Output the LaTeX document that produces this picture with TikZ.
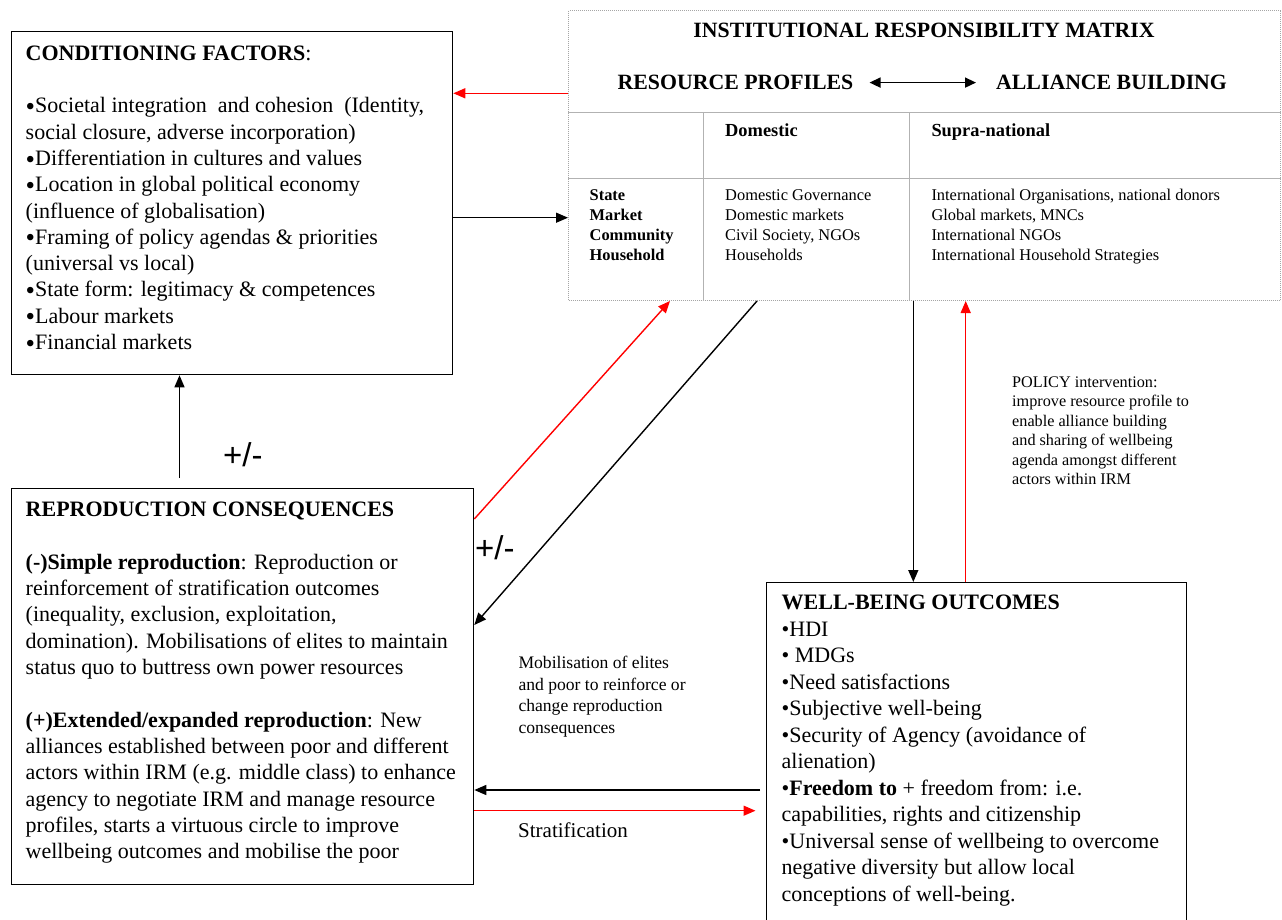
\documentclass[tikz,border=0pt]{standalone}
\usepackage{fontspec}
\setmainfont{Liberation Serif}
\newfontfamily\plmsans{Liberation Sans}
\usetikzlibrary{arrows.meta}

% font sizes used in the boxes
\newcommand\fsBody{\fontsize{22}{26.3}\selectfont}
\newcommand\fsWell{\fontsize{22}{26.5}\selectfont}
\newcommand\fsHead{\fontsize{21.8}{26}\selectfont\bfseries}
\newcommand\fsCol{\fontsize{18.4}{22}\selectfont\bfseries}
\newcommand\fsCell{\fontsize{16.4}{19.7}\selectfont}
\newcommand\fsNote{\fontsize{16.2}{19.4}\selectfont}
\newcommand\fsMob{\fontsize{17.6}{21.7}\selectfont}
\newcommand\fsStrat{\fontsize{21}{25}\selectfont}
\newcommand\fsSign{\plmsans\fontsize{33}{36}\selectfont}
% fixed first-line height, so a block's top sits a known distance above its first baseline
\newcommand\lift[1]{\rule{0pt}{#1}}
% the heavier bullet of the conditioning-factors list
\newcommand\cbul{\raisebox{-2.6pt}{\fontsize{27}{26.3}\selectfont•}}

\tikzset{
  box/.style={draw=black, line width=1.3pt, rectangle, inner sep=0pt, anchor=north west},
  irmbox/.style={draw=gray!70, line width=1pt, densely dotted, rectangle, inner sep=0pt, anchor=north west},
  gridline/.style={draw=gray!60, line width=1pt},
  txt/.style={anchor=base west, inner sep=0pt, align=left},
  block/.style={anchor=north west, inner sep=0pt, align=left},
  tip/.style={-{Triangle[length=12pt,width=10pt]}},
  blackarrow/.style={tip, draw=black, line width=1.4pt},
  redarrow/.style={tip, draw=red, line width=1.4pt},
  twoway/.style={{Triangle[length=11pt,width=10pt]}-{Triangle[length=11pt,width=10pt]}, draw=black, line width=1.6pt},
}

\begin{document}
\begin{tikzpicture}[x=1pt,y=-1pt]
\clip (0,0) rectangle (1282,920);
\fill[white] (0,0) rectangle (1282,920);

% ---------- boxes ----------
\node[box, minimum width=441pt, minimum height=343pt] (cond) at (11,31) {};
\node[box, minimum width=462pt, minimum height=396pt] (repro) at (11,488) {};
\node[box, minimum width=420pt, minimum height=380pt] (well) at (766,582) {};
\node[irmbox, minimum width=712pt, minimum height=290pt] (irm) at (568,10) {};

% ---------- institutional responsibility matrix ----------
\draw[gridline] (irm.west |- 0,113) -- (irm.east |- 0,113);
\draw[gridline] (irm.west |- 0,179) -- (irm.east |- 0,179);
\draw[gridline] (703,113) -- (irm.south -| 703,0);
\draw[gridline] (909,113) -- (irm.south -| 909,0);

\node[anchor=base, inner sep=0pt, font=\fsHead] (irmtitle) at (924,38)
  {INSTITUTIONAL RESPONSIBILITY MATRIX};
\node[txt, font=\fsHead] (rp) at (617.5,89.7) {RESOURCE PROFILES};
\node[txt, font=\fsHead] (ab) at (996,89.7) {ALLIANCE BUILDING};
\draw[twoway] ([xshift=16pt]rp.east) -- ([xshift=-20pt]ab.west);

\node[txt, font=\fsCol] (coldom) at (725,136.3) {Domestic};
\node[txt, font=\fsCol] (colsup) at (931.3,136.3) {Supra-national};

\node[block, font=\fsCell\bfseries] (rows) at (589.5,182.7)
  {\lift{18pt}State\\Market\\Community\\Household};
\node[block, font=\fsCell] (celldom) at (725,182.7)
  {\lift{18pt}Domestic Governance\\Domestic markets\\Civil Society, NGOs\\Households};
\node[block, font=\fsCell] (cellsup) at (931.3,182.7)
  {\lift{18pt}International Organisations, national donors\\Global markets, MNCs\\International NGOs\\International Household Strategies};

% ---------- conditioning factors ----------
\node[block, font=\fsBody] (condtext) at (25.5,36)
  {\lift{24pt}\textbf{CONDITIONING FACTORS}:\\[26.3pt]
   \cbul Societal integration\ \ and cohesion\ \ (Identity,\\
   social closure, adverse incorporation)\\
   \cbul Differentiation in cultures and values\\
   \cbul Location in global political economy\\
   (influence of globalisation)\\
   \cbul Framing of policy agendas \& priorities\\
   (universal vs local)\\
   \cbul State form: legitimacy \& competences\\
   \cbul Labour markets\\
   \cbul Financial markets};

% ---------- reproduction consequences ----------
\node[block, font=\fsBody] (reprotext) at (25.5,492.5)
  {\lift{24pt}\textbf{REPRODUCTION CONSEQUENCES}\\[26.3pt]
   \textbf{(-)Simple reproduction}: Reproduction or\\
   reinforcement of stratification outcomes\\
   (inequality, exclusion, exploitation,\\
   domination). Mobilisations of elites to maintain\\
   status quo to buttress own power resources\\[26.3pt]
   \textbf{(+)Extended/expanded reproduction}: New\\
   alliances established between poor and different\\
   actors within IRM (e.g. middle class) to enhance\\
   agency to negotiate IRM and manage resource\\
   profiles, starts a virtuous circle to improve\\
   wellbeing outcomes and mobilise the poor};

% ---------- well-being outcomes ----------
\node[block, font=\fsWell] (welltext) at (781.5,585.3)
  {\lift{24pt}\textbf{WELL-BEING OUTCOMES}\\
   •HDI\\
   • MDGs\\
   •Need satisfactions\\
   •Subjective well-being\\
   •Security of Agency (avoidance of\\
   alienation)\\
   •\textbf{Freedom to} + freedom from: i.e.\\
   capabilities, rights and citizenship\\
   •Universal sense of wellbeing to overcome\\
   negative diversity but allow local\\
   conceptions of well-being.};

% ---------- free-standing labels ----------
\node[block, font=\fsNote] (policy) at (1012,369.3)
  {\lift{18pt}POLICY intervention:\\improve resource profile to\\enable alliance building\\and sharing of wellbeing\\agenda amongst different\\actors within IRM};
\node[block, font=\fsMob] (mobil) at (518.3,650.3)
  {\lift{18pt}Mobilisation of elites\\and poor to reinforce or\\change reproduction\\consequences};
\node[txt, font=\fsStrat] (strat) at (518,837.5) {Stratification};
\node[txt, font=\fsSign] (signup) at (223,466) {+/-};
\node[txt, font=\fsSign] (signdiag) at (475,559) {+/-};

% ---------- connectors ----------
\draw[redarrow] (irm.west |- 0,93.3) -- (cond.east |- 0,93.3);
\draw[blackarrow] (cond.east |- 0,217.7) -- (irm.west |- 0,217.7);

\coordinate (upstart) at (179.5,478);
\draw[blackarrow] (upstart) -- (cond.south -| upstart);

\draw[redarrow] (repro.east |- 0,519) -- (irm.south -| 670,0);
\draw[blackarrow] (irm.south -| 757,0) -- (repro.east |- 0,625);

\draw[blackarrow] (irm.south -| 913.3,0) -- (well.north -| 913.3,0);
\draw[redarrow] (well.north -| 965.7,0) -- (irm.south -| 965.7,0);

\coordinate (leftstart) at (760,790);
\draw[blackarrow] (leftstart) -- (repro.east |- leftstart);
\coordinate (rightend) at (755.5,810.7);
\draw[redarrow] (repro.east |- rightend) -- (rightend);
\end{tikzpicture}
\end{document}
